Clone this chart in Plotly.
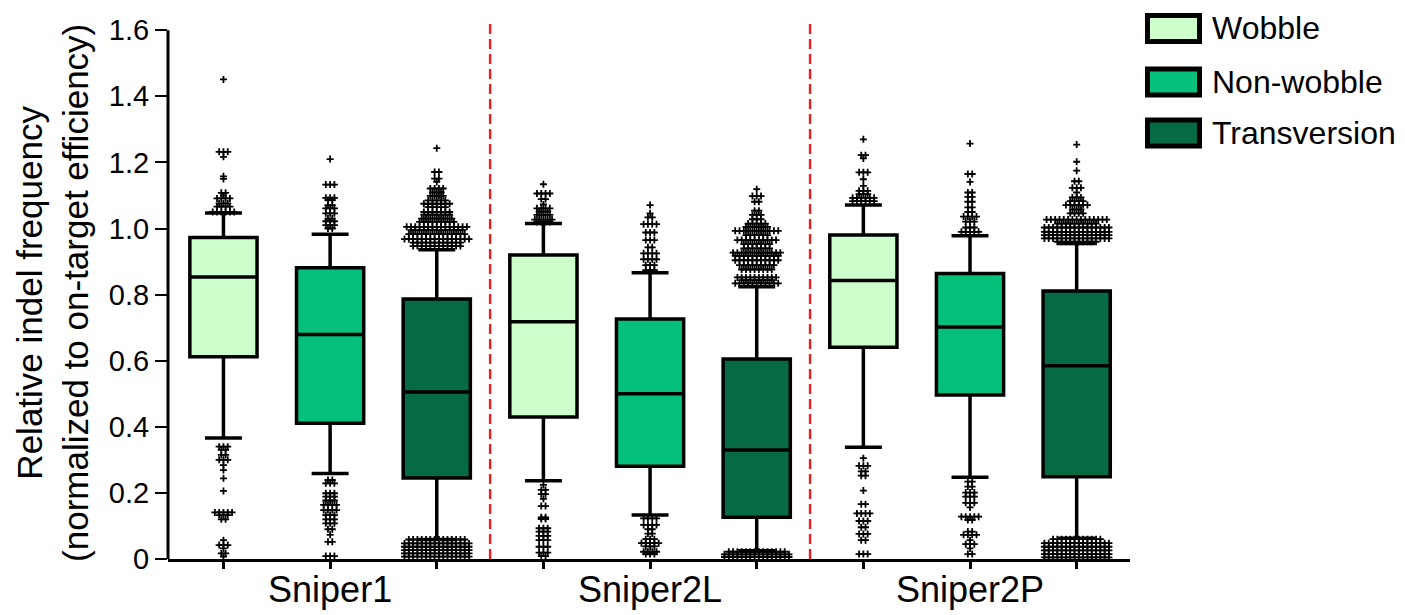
import plotly.graph_objects as go

# ---------------- data ----------------
groups = ["Sniper1", "Sniper2L", "Sniper2P"]
categories = ["Wobble", "Non-wobble", "Transversion"]
colors = ["#ccffcc", "#05c07a", "#066a43"]

y_tickvals = [0, 0.2, 0.4, 0.6, 0.8, 1.0, 1.2, 1.4, 1.6]
y_ticktext = ["0", "0.2", "0.4", "0.6", "0.8", "1.0", "1.2", "1.4", "1.6"]

# box statistics per category: [lower whisker, Q1, median, Q3, upper whisker]
sniper1_stats = [[0.366, 0.612, 0.853, 0.973, 1.047],
                 [0.259, 0.411, 0.679, 0.881, 0.983],
                 [0.059, 0.245, 0.505, 0.787, 0.936]]
sniper2l_stats = [[0.237, 0.430, 0.718, 0.920, 1.015],
                  [0.133, 0.281, 0.500, 0.726, 0.866],
                  [0.025, 0.126, 0.330, 0.605, 0.824]]
sniper2p_stats = [[0.338, 0.641, 0.843, 0.980, 1.071],
                  [0.247, 0.496, 0.702, 0.864, 0.978],
                  [0.063, 0.249, 0.585, 0.811, 0.955]]

# points outside the whiskers, as [value, number of points at that value]
sniper1_wobble_pts = [[1.451, 1], [1.232, 3], [1.217, 1], [1.158, 1], [1.150, 1], [1.108, 2],
                      [1.100, 1], [1.091, 4], [1.076, 3], [1.066, 4], [1.050, 6],
                      [0.340, 3], [0.330, 2], [0.315, 2], [0.300, 3], [0.284, 1], [0.269, 1],
                      [0.244, 1], [0.206, 1], [0.141, 5], [0.133, 3], [0.120, 2], [0.057, 1],
                      [0.042, 3], [0.032, 1], [0.017, 2], [0.007, 1]]
sniper1_nonwobble_pts = [[1.210, 1], [1.133, 3], [1.093, 3], [1.086, 2], [1.071, 2], [1.061, 3],
                         [1.046, 3], [1.030, 2], [1.022, 3], [1.010, 3], [1.000, 2],
                         [0.239, 2], [0.229, 3], [0.199, 3], [0.189, 3], [0.177, 3], [0.164, 4],
                         [0.148, 4], [0.133, 3], [0.120, 3], [0.108, 3], [0.090, 2], [0.073, 1],
                         [0.052, 2], [0.009, 3]]
sniper1_transversion_pts = [[1.243, 1], [1.171, 2], [1.151, 2], [1.141, 1], [1.121, 4], [1.109, 3],
                            [1.099, 4], [1.085, 5], [1.075, 7], [1.065, 5], [1.050, 7], [1.042, 7],
                            [1.030, 8], [1.020, 9], [1.005, 15], [0.995, 13], [0.983, 14],
                            [0.968, 16], [0.957, 12], [0.947, 12],
                            [0.059, 14], [0.047, 16], [0.037, 16], [0.027, 16], [0.017, 16],
                            [0.007, 16]]
sniper2l_wobble_pts = [[1.134, 1], [1.106, 4], [1.089, 2], [1.073, 1], [1.061, 4], [1.051, 3],
                       [1.041, 4], [1.027, 5], [1.020, 4],
                       [0.224, 1], [0.209, 2], [0.196, 2], [0.182, 1], [0.160, 2], [0.126, 2],
                       [0.121, 2], [0.093, 3], [0.083, 3], [0.070, 3], [0.057, 3], [0.037, 3],
                       [0.019, 3], [0.009, 2]]
sniper2l_nonwobble_pts = [[1.071, 1], [1.046, 1], [1.034, 2], [1.013, 4], [0.988, 3], [0.965, 3],
                          [0.943, 2], [0.925, 4], [0.907, 4], [0.889, 3], [0.874, 3],
                          [0.123, 4], [0.103, 4], [0.090, 2], [0.077, 2], [0.060, 3], [0.048, 5],
                          [0.038, 3], [0.022, 4], [0.015, 3]]
sniper2l_transversion_pts = [[1.119, 1], [1.098, 3], [1.081, 2], [1.054, 2], [1.041, 3], [1.028, 3],
                             [1.015, 5], [1.005, 6], [0.993, 11], [0.980, 6], [0.965, 10],
                             [0.953, 7], [0.940, 7], [0.927, 12], [0.917, 11], [0.904, 11],
                             [0.889, 9], [0.876, 8], [0.852, 10], [0.844, 8], [0.834, 11],
                             [0.022, 14], [0.014, 16], [0.006, 16]]
sniper2p_wobble_pts = [[1.270, 1], [1.222, 2], [1.212, 1], [1.170, 3], [1.149, 1], [1.129, 1],
                       [1.114, 3], [1.104, 3], [1.093, 6], [1.083, 6],
                       [0.305, 1], [0.282, 3], [0.265, 2], [0.252, 2], [0.207, 1], [0.166, 2],
                       [0.138, 4], [0.115, 3], [0.096, 2], [0.076, 3], [0.057, 2], [0.015, 3]]
sniper2p_nonwobble_pts = [[1.257, 1], [1.165, 2], [1.141, 1], [1.109, 2], [1.096, 2], [1.081, 2],
                          [1.064, 2], [1.050, 2], [1.036, 4], [1.021, 3], [1.003, 3], [0.990, 5],
                          [0.234, 2], [0.219, 2], [0.201, 3], [0.189, 3], [0.170, 3], [0.156, 1],
                          [0.128, 5], [0.118, 2], [0.083, 2], [0.073, 4], [0.057, 1], [0.045, 3],
                          [0.032, 1], [0.015, 2]]
sniper2p_transversion_pts = [[1.254, 1], [1.202, 1], [1.175, 1], [1.143, 2], [1.123, 3], [1.109, 1],
                             [1.094, 3], [1.083, 4], [1.071, 6], [1.058, 3], [1.046, 4],
                             [1.027, 15], [1.015, 10], [1.003, 16], [0.990, 16], [0.980, 16],
                             [0.970, 16], [0.960, 10],
                             [0.060, 12], [0.048, 16], [0.037, 16], [0.026, 16], [0.015, 16],
                             [0.005, 16]]

all_stats = [sniper1_stats, sniper2l_stats, sniper2p_stats]
all_pts = [[sniper1_wobble_pts, sniper1_nonwobble_pts, sniper1_transversion_pts],
           [sniper2l_wobble_pts, sniper2l_nonwobble_pts, sniper2l_transversion_pts],
           [sniper2p_wobble_pts, sniper2p_nonwobble_pts, sniper2p_transversion_pts]]

# ---------------- layout geometry ----------------
OFF = 8                     # page body margin added by the browser
W, H = 1405 - OFF, 615 - OFF
ML, MT = 168 - OFF, 17 - OFF
PW = 962
PH = 542
MR = W - ML - PW
MB = H - MT - PH
XR = [-0.52, 8.5]
YR = [0, 1.64]
px_per_x = PW / (XR[1] - XR[0])
FONT = "Arial, 'Liberation Sans', Helvetica, sans-serif"
DOT_SP = 4.3  # horizontal spacing of swarm dots, px


def paper_x(wx):
    # window pixel x -> paper coordinate
    return (wx - OFF - ML) / PW


def paper_y(wy):
    # window pixel y -> paper coordinate
    return (MT + PH - (wy - OFF)) / PH


fig = go.Figure()

for gi, g in enumerate(groups):
    for ci, cat in enumerate(categories):
        pos = gi * 3 + ci
        lo, q1, med, q3, hi = all_stats[gi][ci]
        fig.add_trace(go.Box(
            x=[pos], q1=[q1], median=[med], q3=[q3], lowerfence=[lo], upperfence=[hi],
            fillcolor=colors[ci], line=dict(color="black", width=3.5),
            width=0.63, whiskerwidth=0.55, boxpoints=False,
            name=cat, showlegend=False, hoverinfo="skip"))
        xs, ys = [], []
        for val, n in all_pts[gi][ci]:
            for i in range(n):
                off = (i - (n - 1) / 2) * DOT_SP
                xs.append(pos + off / px_per_x)
                ys.append(val)
        fig.add_trace(go.Scatter(
            x=xs, y=ys, mode="markers", cliponaxis=False,
            marker=dict(symbol="cross-thin", size=5, color="black",
                        line=dict(width=1.8, color="black")),
            showlegend=False, hoverinfo="skip"))

shapes = []
# y axis line (stops at top tick)
shapes.append(dict(type="line", xref="paper", yref="y", x0=0, x1=0, y0=-0.006, y1=1.6,
                   line=dict(color="black", width=3)))
# red dashed group separators
for xv in [2.5, 5.5]:
    shapes.append(dict(type="line", xref="x", yref="y", x0=xv, x1=xv, y0=0, y1=1.625,
                       line=dict(color="#ee1c1c", width=2.4, dash="10px,5px")))

annotations = []
# legend drawn manually
leg_centers = [28.5, 82, 133]
for ci, cat in enumerate(categories):
    cy = leg_centers[ci]
    shapes.append(dict(type="rect", xref="paper", yref="paper",
                       x0=paper_x(1147.5), x1=paper_x(1199.5),
                       y0=paper_y(cy + 13), y1=paper_y(cy - 13),
                       fillcolor=colors[ci], line=dict(color="black", width=5)))
    annotations.append(dict(xref="paper", yref="paper", x=paper_x(1210), y=paper_y(cy),
                            text=cat, showarrow=False, xanchor="left", yanchor="middle",
                            font=dict(family=FONT, size=32, color="black")))

annotations.append(dict(xref="paper", yref="y", x=paper_x(53), y=0.805,
                        text="Relative indel frequency<br>(normalized to on-target efficiency)",
                        textangle=-90, showarrow=False, xanchor="center", yanchor="middle",
                        font=dict(family=FONT, size=35, color="black")))

x_tickvals = list(range(9))
x_ticktext = []
for p in x_tickvals:
    x_ticktext.append(groups[p // 3] if p % 3 == 1 else "")

fig.update_layout(
    width=W, height=H,
    margin=dict(l=ML, r=MR, t=MT, b=MB, pad=0, autoexpand=False),
    plot_bgcolor="white", paper_bgcolor="white",
    font=dict(family=FONT, color="black"),
    shapes=shapes, annotations=annotations,
    xaxis=dict(range=XR, showline=True, linecolor="black", linewidth=3,
               ticks="outside", ticklen=7, tickwidth=2.5, tickcolor="black",
               tickvals=x_tickvals, ticktext=x_ticktext, ticklabelstandoff=-10,
               tickfont=dict(family=FONT, size=36, color="black"),
               showgrid=False, zeroline=False, fixedrange=True, automargin=False),
    yaxis=dict(range=YR, showline=False,
               ticks="outside", ticklen=12, tickwidth=2, tickcolor="black",
               tickvals=y_tickvals, ticktext=y_ticktext,
               tickfont=dict(family=FONT, size=29, color="black"),
               showgrid=False, zeroline=False, fixedrange=True, automargin=False),
)

fig.write_html("out.html")
